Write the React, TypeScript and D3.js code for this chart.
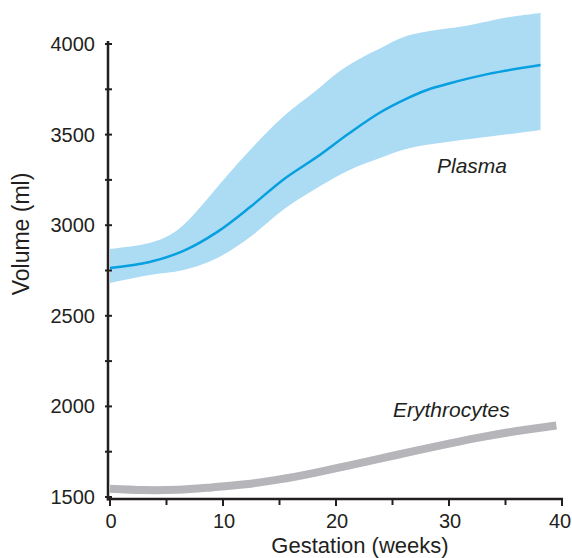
import React from "react";
import * as d3 from "d3";

const plasmaWeeks = [0, 3.5, 6.5, 9.5, 12.4, 15.3, 18.3, 21.2, 23.9, 26.3, 28, 30, 33.5, 38.1];
const plasmaMean = [2764, 2797, 2858, 2963, 3100, 3250, 3376, 3509, 3622, 3700, 3745, 3782, 3835, 3884];

const upperWeeks = [0, 3.5, 5.3, 6.5, 8, 9.5, 12.4, 15.3, 18.3, 20.1, 21.9, 23.9, 26.3, 31.9, 35, 38.1];
const upperValues = [2869, 2902, 2946, 3001, 3100, 3211, 3415, 3597, 3746, 3840, 3912, 3975, 4045, 4105, 4145, 4171];

const lowerWeeks = [0, 3.5, 6.5, 9.5, 12.4, 15.3, 18.3, 21.2, 23.9, 26.3, 30, 35, 38.1];
const lowerValues = [2681, 2725, 2753, 2819, 2935, 3084, 3205, 3305, 3371, 3422, 3460, 3500, 3526];

const eryWeeks = [0, 3, 6, 9, 12, 15, 18, 21, 24, 27, 30, 33, 36, 39.5];
const eryValues = [1545, 1538, 1540, 1553, 1570, 1597, 1632, 1672, 1713, 1755, 1795, 1832, 1864, 1895];

const xMajorTicks = [0, 10, 20, 30, 40];
const xMinorTicks = [5, 15, 25, 35];
const yMajorTicks = [1500, 2000, 2500, 3000, 3500, 4000];
const yMinorTicks = [1750, 2250, 2750, 3250, 3750];

const FONT = "'Liberation Sans', Arial, Helvetica, sans-serif";
const AXIS = "#231f20";

export default function App() {
  const x = d3.scaleLinear().domain([0, 40]).range([110, 562]);
  const y = d3.scaleLinear().domain([1500, 4000]).range([497, 44]);

  const curve = d3.curveCatmullRom.alpha(0.5);
  const lineGen = d3.line<[number, number]>().curve(curve);

  const upperPts: [number, number][] = upperWeeks.map((w, i) => [x(w), y(upperValues[i])]);
  const lowerPts: [number, number][] = lowerWeeks.map((w, i) => [x(w), y(lowerValues[i])]);
  const upperPath = lineGen(upperPts) || "";
  const lowerRev = lineGen(lowerPts.slice().reverse()) || "";
  const bandPath = upperPath + "L" + lowerRev.slice(1) + "Z";

  const meanPath = lineGen(plasmaWeeks.map((w, i) => [x(w), y(plasmaMean[i])] as [number, number])) || "";
  const eryPath = lineGen(eryWeeks.map((w, i) => [x(w), y(eryValues[i])] as [number, number])) || "";

  const axisX = 108;
  const axisY = 499;

  return (
    <svg
      width={572}
      height={558}
      style={{ position: "absolute", left: 0, top: 0, background: "#fff" }}
      fontFamily={FONT}
    >
      <path d={bandPath} fill="#acdbf4" stroke="none" />
      <path d={meanPath} fill="none" stroke="#069fe0" strokeWidth={2.5} />
      <path d={eryPath} fill="none" stroke="#b5b5ba" strokeWidth={8} />

      {/* Y axis */}
      <line x1={axisX} x2={axisX} y1={y(4000) - 3} y2={axisY + 1.5} stroke={AXIS} strokeWidth={2.5} />
      {yMajorTicks.map((t) => (
        <g key={"ym" + t}>
          <line x1={105} x2={112} y1={y(t)} y2={y(t)} stroke={AXIS} strokeWidth={2} />
          <text x={95} y={y(t)} textAnchor="end" dominantBaseline="central" fontSize={20} fill={AXIS}>
            {t}
          </text>
        </g>
      ))}
      {yMinorTicks.map((t) => (
        <line key={"yn" + t} x1={105} x2={112} y1={y(t)} y2={y(t)} stroke={AXIS} strokeWidth={2} />
      ))}

      {/* X axis */}
      <line x1={axisX - 1.2} x2={x(40) + 1} y1={axisY} y2={axisY} stroke={AXIS} strokeWidth={2.5} />
      {xMajorTicks.map((t) => (
        <g key={"xm" + t}>
          <line x1={x(t)} x2={x(t)} y1={axisY} y2={axisY + 7} stroke={AXIS} strokeWidth={2} />
          <text x={t === 40 ? x(t) - 2 : x(t) + 1} y={528} textAnchor="middle" fontSize={20} fill={AXIS}>
            {t}
          </text>
        </g>
      ))}
      {xMinorTicks.map((t) => (
        <line key={"xn" + t} x1={x(t)} x2={x(t)} y1={axisY} y2={axisY + 6} stroke={AXIS} strokeWidth={2} />
      ))}

      {/* Axis titles */}
      <text x={360} y={553} textAnchor="middle" fontSize={22} fill={AXIS}>
        Gestation (weeks)
      </text>
      <text transform="translate(29,234) rotate(-90)" textAnchor="middle" fontSize={23} fill={AXIS}>
        Volume (ml)
      </text>

      {/* Series labels */}
      <text x={437} y={173} fontSize={21} fontStyle="italic" fill={AXIS}>
        Plasma
      </text>
      <text x={393} y={417} fontSize={21} fontStyle="italic" fill={AXIS}>
        Erythrocytes
      </text>
    </svg>
  );
}
